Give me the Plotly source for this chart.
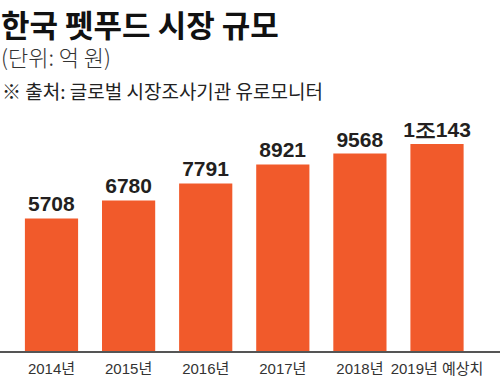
import plotly.graph_objects as go

categories = ["2014년", "2015년", "2016년", "2017년", "2018년", "2019년 예상치"]
values = [5708, 6780, 7791, 8921, 9568, 10143]
value_labels = ["5708", "6780", "7791", "8921", "9568", "1조143"]

title_text = "한국 펫푸드 시장 규모"
unit_text = "(단위: 억 원)"
source_text = "※ 출처: 글로벌 시장조사기관 유로모니터"

W, H = 500, 388
TOP, BOTTOM = 100, 351  # plot area pixel bounds
AXIS_MIN, AXIS_MAX = -2180, 12755  # truncated value axis as drawn in the reference


def py(y):
    return (BOTTOM - y) / (BOTTOM - TOP)


fig = go.Figure(
    go.Bar(
        x=categories,
        y=[v - AXIS_MIN for v in values],
        base=AXIS_MIN,
        text=value_labels,
        textposition="outside",
        texttemplate="%{text}",
        constraintext="none",
        cliponaxis=False,
        marker=dict(color="#F15A2B", line=dict(width=0)),
        width=0.69,
        textfont=dict(family="Liberation Sans, Arial, sans-serif",
                      size=21, color="#231F20", weight="bold"),
        hoverinfo="skip",
    )
)

header = (f"<span style='font-size:31px;font-weight:bold;color:#111111'>{title_text}</span>"
          f"<br>{unit_text}")

fig.update_layout(
    width=W, height=H,
    margin=dict(l=0, r=0, t=TOP, b=H - BOTTOM, pad=0, autoexpand=False),
    paper_bgcolor="white", plot_bgcolor="white",
    showlegend=False,
    xaxis=dict(
        type="category", range=[-0.668, 5.817],
        showline=True, linecolor="#555555", linewidth=1.5,
        ticks="", showgrid=False, zeroline=False,
        tickangle=0, automargin=False,
        tickfont=dict(family="Liberation Sans, Noto Sans CJK KR, sans-serif",
                      size=15, color="#333333"),
        ticklabelstandoff=3,
    ),
    yaxis=dict(range=[AXIS_MIN, AXIS_MAX], visible=False, showgrid=False, zeroline=False, automargin=False),
    annotations=[
        dict(text=header, x=0.0, y=py(0), xref="paper", yref="paper", xanchor="left", yanchor="top",
             align="left", borderpad=0, showarrow=False,
             font=dict(family="Noto Sans CJK KR", size=22, color="#333333", weight=300)),
        dict(text=source_text, x=0.0, y=py(75), xref="paper", yref="paper", xanchor="left", yanchor="top",
             showarrow=False, font=dict(family="Noto Sans CJK KR", size=19, color="#222222", weight=400)),
    ],
)

fig.write_html("out.html", config={"displayModeBar": False},
               post_script="document.body.style.margin='0';")
